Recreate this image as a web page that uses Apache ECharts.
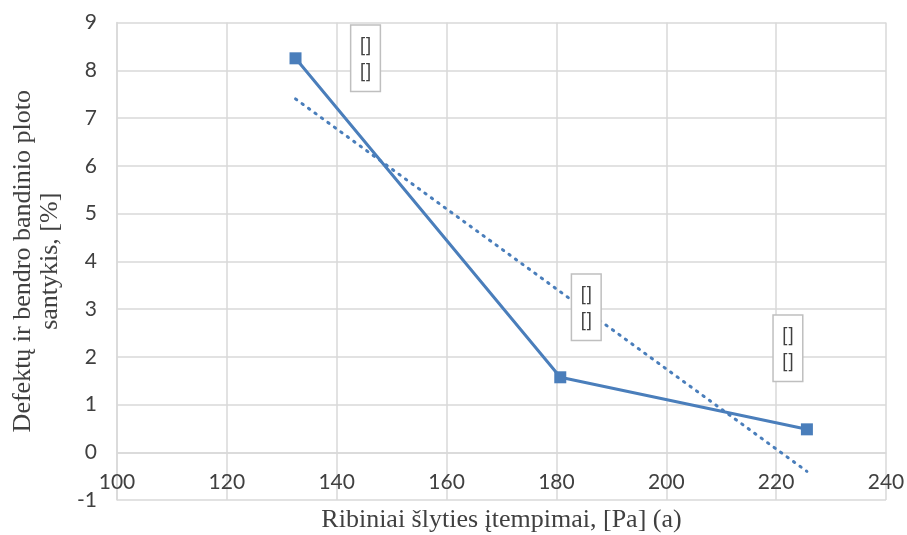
<!DOCTYPE html>
<html>
<head>
<meta charset="utf-8">
<script src="https://cdn.jsdelivr.net/npm/echarts@6/dist/echarts.min.js"></script>
<style>
  html, body { margin: 0; padding: 0; background: #ffffff; }
  #chart { width: 907px; height: 535px; }
</style>
</head>
<body>
<div id="chart"></div>
<script>
// Measured points: shear stress [Pa] vs defect-to-sample area ratio [%]
const stress = [132.5, 180.7, 225.6];
const defectRatio = [8.25, 1.57, 0.48];
// Linear trend line end points
const trendX = [132.5, 225.6];
const trendY = [7.4, -0.4];
// Point label texts
const pointLabels = ['[]\n[]', '[]\n[]', '[]\n[]'];
// Label offsets relative to each marker
const labelOffsets = [[70, 0], [26, -70], [-19, -81]];

const xTicks = { min: 100, max: 240, interval: 20 };
const yTicks = { min: -1, max: 9, interval: 1 };

const blue = '#4a7ebb';
const gridGrey = '#d9d9d9';
const textGrey = '#404040';

const gridTop = 22.5;
const gridBottomPx = 500;
// pixels per y unit, used to lift the x axis onto the zero line
const yUnitPx = (gridBottomPx - gridTop) / (yTicks.max - yTicks.min);

const chart = echarts.init(document.getElementById('chart'));

const mainData = stress.map((x, i) => ({
  value: [x, defectRatio[i]],
  label: {
    show: true,
    position: 'inside',
    offset: labelOffsets[i],
    formatter: pointLabels[i],
    fontFamily: 'Lato',
    fontSize: 20,
    lineHeight: 26,
    color: textGrey,
    backgroundColor: '#ffffff',
    borderColor: '#bfbfbf',
    borderWidth: 1.5,
    padding: [7, 8, 6, 8]
  }
}));

chart.setOption({
  animation: false,
  grid: {
    left: 117, right: 21, top: gridTop, bottom: 535 - gridBottomPx,
    containLabel: false, outerBoundsMode: 'none'
  },
  xAxis: {
    type: 'value',
    min: xTicks.min, max: xTicks.max, interval: xTicks.interval,
    offset: -(0 - yTicks.min) * yUnitPx,
    name: 'Ribiniai šlyties įtempimai, [Pa] (a)',
    nameLocation: 'middle',
    nameGap: 55,
    nameTextStyle: { fontFamily: 'Liberation Serif', fontSize: 26, color: textGrey },
    axisLine: { onZero: false, lineStyle: { color: gridGrey, width: 1.5 } },
    axisTick: { show: false },
    axisLabel: { fontFamily: 'Lato', fontSize: 21, color: textGrey, margin: 19 },
    splitLine: { show: true, lineStyle: { color: gridGrey, width: 1.5 } }
  },
  yAxis: {
    type: 'value',
    min: yTicks.min, max: yTicks.max, interval: yTicks.interval,
    name: 'Defektų ir bendro bandinio ploto\nsantykis, [%]',
    nameLocation: 'middle',
    nameGap: 53,
    nameTextStyle: { fontFamily: 'Liberation Serif', fontSize: 26, color: textGrey, lineHeight: 27 },
    axisLine: { show: true, lineStyle: { color: gridGrey, width: 1.5 } },
    axisTick: { show: false },
    axisLabel: { fontFamily: 'Lato', fontSize: 21, color: textGrey, margin: 20 },
    splitLine: { show: true, lineStyle: { color: gridGrey, width: 1.5 } }
  },
  series: [
    {
      type: 'line',
      data: trendX.map((x, i) => [x, trendY[i]]),
      showSymbol: false,
      lineStyle: { color: blue, width: 3, type: [1.5, 6.5], cap: 'round' },
      z: 2
    },
    {
      type: 'line',
      data: mainData,
      symbol: 'rect',
      symbolSize: 12,
      itemStyle: { color: blue },
      lineStyle: { color: blue, width: 3 },
      z: 3
    }
  ]
});
</script>
</body>
</html>
